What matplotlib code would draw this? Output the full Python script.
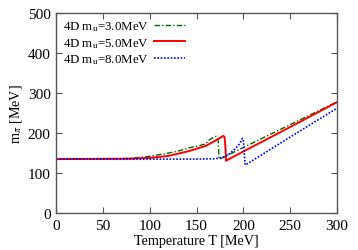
import matplotlib
matplotlib.use("Agg")
import matplotlib.pyplot as plt

# pion mass vs temperature
T_3 = [0, 60, 80, 100, 120, 132, 142, 150, 160, 163, 167, 171, 173, 174, 175, 200, 250, 300]
m_3 = [135, 135.5, 137, 142, 150, 156, 163, 167, 173, 182, 188, 192, 188, 137, 135, 164, 221, 278]

T_5 = [0, 80, 100, 120, 142, 160, 171.5, 176, 178.5, 180, 181, 181.5, 200, 250, 300]
m_5 = [135, 136, 138, 143, 155, 168, 183, 189, 193, 190, 160, 131, 154, 215, 277]

T_8 = [0, 150, 170, 178, 185, 190, 195, 197, 199, 200, 201.5, 202, 250, 300]
m_8 = [135, 135, 136, 139, 148, 158, 170, 178, 187, 183, 135, 120, 190, 262]

labels = [r"4D m$_\mathrm{u}$=3.0MeV", r"4D m$_\mathrm{u}$=5.0MeV", r"4D m$_\mathrm{u}$=8.0MeV"]

plt.rcParams['font.family'] = ['Liberation Serif', 'DejaVu Serif']
plt.rcParams['mathtext.fontset'] = 'stix'

fig, ax = plt.subplots(figsize=(3.58, 2.51), dpi=100)
fig.subplots_adjust(left=0.157, right=0.941, top=0.944, bottom=0.147)

ax.plot(T_3, m_3, color='#006400', ls=(0, (4, 1.5, 1, 1.5)), lw=1.0, label=labels[0])
ax.plot(T_5, m_5, color='#ff0000', ls='-', lw=1.4, label=labels[1])
ax.plot(T_8, m_8, color='#0000ff', ls=(0, (1, 1)), lw=1.2, label=labels[2])

ax.set_xlim(0, 300)
ax.set_ylim(0, 500)
ax.set_xticks([0, 50, 100, 150, 200, 250, 300])
ax.set_yticks([0, 100, 200, 300, 400, 500])
ax.tick_params(direction='in', top=True, right=True, length=4, width=0.8,
               color='#555555', labelsize=11, pad=4)
for s in ax.spines.values():
    s.set_color('#555555')
    s.set_linewidth(1.0)

ax.set_xlabel('Temperature T [MeV]', fontsize=10.2, labelpad=2)
ax.set_ylabel(r'm$_\pi$ [MeV]', fontsize=10.2, labelpad=3)

ax.legend(loc='upper left', frameon=False, fontsize=9.3, markerfirst=False,
          handlelength=2.4, handletextpad=0.45, labelspacing=0.2,
          borderaxespad=0.2, borderpad=0.3)

fig.savefig("out.png", dpi=100)
